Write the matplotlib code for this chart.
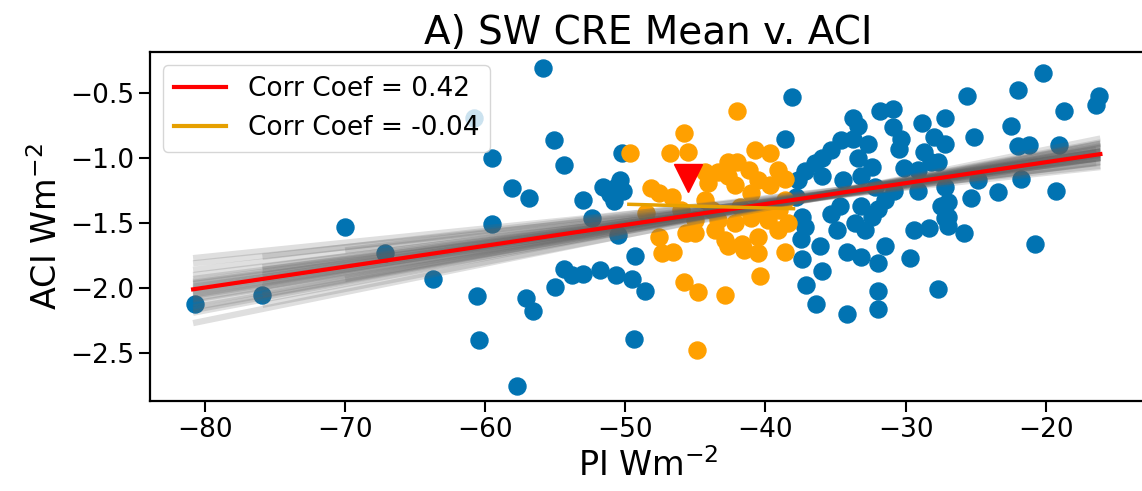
import numpy as np
import matplotlib
matplotlib.use('Agg')
import matplotlib.pyplot as plt
from matplotlib.lines import Line2D

# all models (blue)
blue_x = [-80.7, -75.9, -70.0, -67.15, -63.76, -60.56, -60.44,
          -55.9, -60.8, -59.5, -55.1, -54.4, -58.1, -56.9, -59.5, -53.0, -52.4,
          -51.6, -51.1, -50.4, -50.7, -50.8, -50.2, -50.24, -50.5, -49.3,
          -54.4, -53.8, -53.0, -51.8, -50.7, -49.5, -48.6, -55.0, -57.1, -56.6,
          -49.4, -57.7, -38.1, -38.6,
          -33.75, -31.85, -30.9, -33.4, -30.9, -28.8, -27.2, -34.6, -33.75, -32.7,
          -30.3, -27.95, -27.2, -35.3, -36.0, -36.5, -33.4, -32.4, -30.5, -28.7,
          -28.2, -30.1, -29.1, -37.2, -37.7, -36.0, -34.5, -33.2, -32.2, -30.8,
          -29.1, -27.2,
          -37.4, -37.2, -35.3, -34.7, -33.2, -32.0, -31.5, -34.9, -33.6, -32.9,
          -32.4, -27.5, -27.0, -29.4, -28.3, -36.1, -37.4, -34.2, -33.2, -31.5,
          -32.0, -29.7, -36.0, -37.1, -32.0, -27.7, -36.4, -34.2, -32.0, -37.5,
          -37.8,
          -20.2, -25.6, -22.0, -16.2, -16.4, -18.7, -22.5, -25.1, -22.0, -21.2,
          -19.05, -27.7, -24.85, -21.8, -23.4, -19.3, -25.35, -27.0, -27.2, -27.0,
          -25.8, -20.8]
blue_y = [-2.12, -2.05, -1.53, -1.73, -1.93, -2.06, -2.40,
          -0.31, -0.69, -1.00, -0.86, -1.05, -1.23, -1.31, -1.51, -1.32, -1.46,
          -1.22, -1.28, -1.17, -1.22, -1.33, -1.25, -0.96, -1.59, -1.75,
          -1.85, -1.90, -1.89, -1.86, -1.90, -1.93, -2.02, -1.99, -2.08, -2.18,
          -2.39, -2.75, -0.53, -0.85,
          -0.69, -0.64, -0.62, -0.75, -0.76, -0.73, -0.69, -0.86, -0.85, -0.89,
          -0.85, -0.84, -0.89, -0.94, -1.00, -1.04, -1.00, -1.07, -0.93, -0.95,
          -1.03, -1.08, -1.09, -1.10, -1.17, -1.14, -1.17, -1.14, -1.22, -1.25,
          -1.25, -1.22,
          -1.45, -1.53, -1.43, -1.37, -1.37, -1.39, -1.32, -1.55, -1.50, -1.55,
          -1.45, -1.37, -1.45, -1.55, -1.54, -1.68, -1.78, -1.72, -1.76, -1.68,
          -1.81, -1.77, -1.87, -1.98, -2.02, -2.01, -2.12, -2.20, -2.16, -1.62,
          -1.30,
          -0.35, -0.52, -0.48, -0.52, -0.59, -0.64, -0.75, -0.84, -0.91, -0.90,
          -0.90, -1.03, -1.17, -1.16, -1.26, -1.25, -1.31, -1.34, -1.46, -1.52,
          -1.58, -1.66]

# subset (orange)
orange_x = [-42.05, -45.85, -46.8, -45.5, -49.65, -40.75, -39.7, -42.65, -42.0, -44.3,
            -43.4, -42.65, -41.2, -39.1, -38.6, -40.5, -39.7, -44.1, -42.2, -48.2,
            -47.6, -46.7, -44.3, -41.0, -38.6,
            -47.6, -45.7, -45.0, -43.6, -42.9, -41.7, -40.5, -39.1, -38.4, -43.4,
            -42.2, -41.0, -39.8, -45.0, -47.4, -46.6, -42.65, -41.5, -40.5, -38.6,
            -40.4, -45.85, -44.8, -42.9, -44.9,
            -46.0, -43.8, -41.8, -40.2, -39.0, -48.5]
orange_y = [-0.64, -0.81, -0.96, -0.95, -0.96, -0.94, -0.96, -1.03, -1.03, -1.11,
            -1.11, -1.14, -1.09, -1.09, -1.16, -1.17, -1.21, -1.19, -1.21, -1.23,
            -1.27, -1.30, -1.32, -1.27, -1.32,
            -1.61, -1.58, -1.58, -1.55, -1.63, -1.66, -1.61, -1.55, -1.50, -1.48,
            -1.50, -1.46, -1.48, -1.48, -1.73, -1.72, -1.68, -1.71, -1.73, -1.72,
            -1.91, -1.95, -2.03, -2.05, -2.48,
            -1.40, -1.40, -1.38, -1.42, -1.40, -1.42]

obs_x = [-45.5]
obs_y = [-1.15]

# regression lines (end points)
fit_x = [-80.85, -16.1]
fit_y = [-2.01, -0.97]
sub_fit_x = [-49.75, -38.0]
sub_fit_y = [-1.356, -1.39]

# bootstrap fits (end points)
gray_x0 = [-80.85, -80.85, -75.9, -80.85, -70.0, -80.85, -75.9, -80.85,
           -80.85, -80.85, -75.9, -80.85, -80.85, -80.85, -75.9, -80.85,
           -80.85, -80.85, -75.9, -80.85, -70.0, -80.85, -75.9, -80.85,
           -80.85, -80.85, -75.9, -80.85, -80.85, -80.85, -75.9, -80.85]
gray_y0 = [-1.77, -1.81, -1.76, -1.86, -1.71, -1.90, -1.84, -1.93,
           -1.95, -1.96, -1.90, -1.99, -2.00, -2.01, -1.94, -2.03,
           -2.04, -2.06, -1.99, -2.09, -1.93, -2.12, -2.05, -2.15,
           -2.17, -2.19, -2.13, -2.27, -1.97, -2.05, -1.86, -2.08]
gray_x1 = [-16.1, -16.1, -16.1, -16.4, -16.1, -16.1, -16.1, -16.1,
           -16.1, -16.1, -16.1, -16.1, -16.4, -16.1, -16.1, -16.1,
           -16.1, -16.1, -16.1, -16.1, -16.1, -16.4, -16.1, -16.1,
           -16.1, -16.1, -16.1, -16.1, -16.1, -16.1, -16.1, -16.1]
gray_y1 = [-1.06, -1.07, -1.01, -1.04, -1.00, -1.035, -1.00, -1.03,
           -0.975, -1.00, -0.95, -1.00, -0.96, -0.98, -0.95, -0.98,
           -0.95, -0.97, -0.925, -0.95, -0.91, -0.935, -0.90, -0.92,
           -0.89, -0.88, -0.89, -0.85, -1.00, -0.94, -0.99, -0.95]

corr_all = 0.42
corr_sub = -0.04

blue = '#0173B2'
orange = '#FFA000'

fig = plt.figure(figsize=(11.42, 4.91), dpi=100)
ax = fig.add_axes([0.1313, 0.1833, 0.872, 0.7107])

ax.scatter(blue_x, blue_y, s=150, color=blue, zorder=2)
ax.scatter(orange_x, orange_y, s=150, color=orange, zorder=3)
ax.plot(obs_x, obs_y, 'v', color='red', markersize=20, zorder=4)

for i in range(len(gray_x0)):
    ax.plot([gray_x0[i], gray_x1[i]], [gray_y0[i], gray_y1[i]],
            color='#606060', alpha=0.2, lw=4.5, solid_capstyle='butt', zorder=5)

ax.plot(fit_x, fit_y, color='red', lw=3, zorder=6)
ax.plot(sub_fit_x, sub_fit_y, color='#E6A000', lw=2.5, zorder=6)

ax.set_xlim(-83.93, -12.86)
ax.set_ylim(-2.869, -0.185)
ax.set_xticks([-80, -70, -60, -50, -40, -30, -20])
ax.set_yticks([-0.5, -1.0, -1.5, -2.0, -2.5])
ax.tick_params(labelsize=19, length=8, width=1.5)
for sp in ax.spines.values():
    sp.set_linewidth(1.6)

ax.set_title('A) SW CRE Mean v. ACI', fontsize=28)
ax.set_xlabel(r'PI Wm$^{-2}$', fontsize=24)
ax.set_ylabel(r'ACI Wm$^{-2}$', fontsize=24)

handles = [Line2D([0], [0], color='red', lw=3),
           Line2D([0], [0], color='#E6A000', lw=3)]
ax.legend(handles, ['Corr Coef = %.2f' % corr_all, 'Corr Coef = %.2f' % corr_sub],
          loc='upper left', fontsize=19)

fig.savefig('out.png', dpi=100)
